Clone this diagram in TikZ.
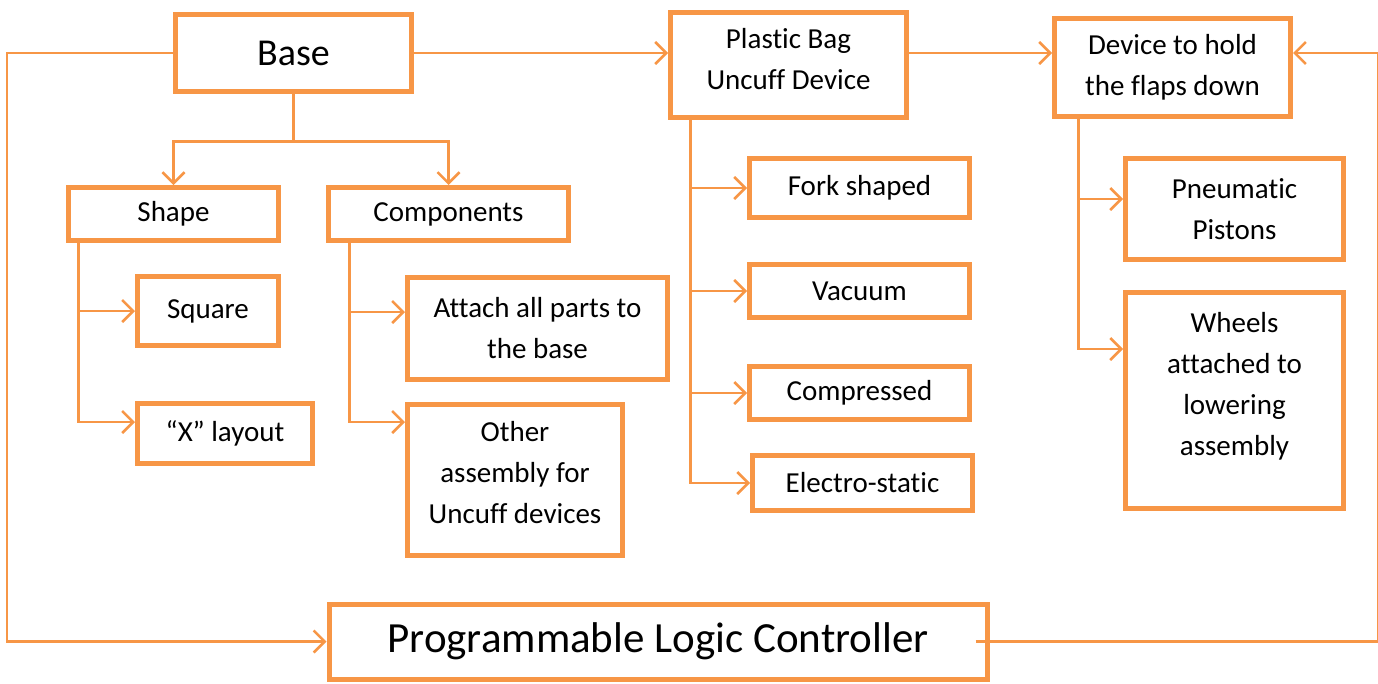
\documentclass[tikz,border=0pt]{standalone}
\usepackage{fontspec}
\setmainfont{Carlito}[Ligatures={TeX,CommonOff}]
\usepackage{tikz}
\usetikzlibrary{arrows.meta, positioning}
\definecolor{cOrange}{RGB}{247,150,70}
\tikzset{
	box/.style    ={rectangle, draw=cOrange, line width=5pt, inner sep=0pt, align=center, text=black, font=\fontsize{29}{41}\selectfont},
	bigbox/.style ={box, font=\fontsize{38}{46}\selectfont},
	link/.style   ={draw=cOrange, line width=2.5pt},
	arr/.style    ={link, -{Straight Barb[length=11pt, width=22pt]}},
}
\begin{document}
\begin{tikzpicture}[x=1pt, y=-1pt]
	\useasboundingbox (0,0) rectangle (1378,683);
	% top row
	\node[bigbox, minimum width=236, minimum height=77] (base) at (293.5,53) {Base};
	\node[box, minimum width=236, minimum height=105, text depth=12pt] (bag) at (788.5,65) {Plastic Bag\\Uncuff Device};
	\node[box, minimum width=236, minimum height=98] (hold) at (1172.5,67.5) {Device to hold\\the flaps down};
	% base branches
	\node[box, minimum width=210, minimum height=53] (shape) at (173.5,214) {Shape};
	\node[box, minimum width=240, minimum height=53] (comp) at (448.5,214) {Components};
	\node[box, minimum width=141, minimum height=69] (square) at (208,311) {Square};
	\node[box, minimum width=175, minimum height=60] (xlay) at (225,433.5) {``X'' layout};
	\node[box, minimum width=260, minimum height=102] (attach) at (537.5,328.5) {Attach all parts to\\the base};
	\node[box, minimum width=215, minimum height=151, text depth=15pt] (other) at (515,480) {Other\\assembly for\\Uncuff devices};
	% uncuff options
	\node[box, minimum width=220, minimum height=59] (fork) at (859.5,188) {Fork shaped};
	\node[box, minimum width=220, minimum height=53] (vacuum) at (859.5,291) {Vacuum};
	\node[box, minimum width=220, minimum height=53] (compr) at (859.5,393) {Compressed};
	\node[box, minimum width=220, minimum height=55] (estat) at (862.5,483) {Electro-static};
	% hold options
	\node[box, minimum width=218, minimum height=101] (pneu) at (1234.5,209) {Pneumatic\\Pistons};
	\node[box, minimum width=218, minimum height=216, text depth=33pt] (wheels) at (1234.5,400.5) {Wheels\\attached to\\lowering\\assembly};
	% controller
	\node[bigbox, minimum width=658, minimum height=75, font=\fontsize{43}{50}\selectfont] (plc) at (658,641.5) {Programmable Logic Controller};

	\draw[link] (base.south) -- ++(0,47.5) coordinate (bj);
	\draw[arr] (bj) -| (shape.north);
	\draw[arr] (bj) -| (comp.north);
	\draw[arr] (base.east) -- (base.east -| bag.west);
	\draw[arr] (bag.east |- base.east) -- (hold.west |- base.east);
	\draw[arr] (base.west) -- ++(-166,0) |- (plc.west);
	\draw[arr] ([xshift=-14]plc.east) -- ++(403,0) |- (hold.east |- base.east);

	\draw[arr] ([xshift=12.5]shape.south west) |- (square.west);
	\draw[arr] ([xshift=12.5]shape.south west) |- ([yshift=11.5]xlay.west);
	\draw[arr] ([xshift=23.5]comp.south west) |- ([yshift=16.5]attach.west);
	\draw[arr] ([xshift=23.5]comp.south west) |- ([yshift=58]other.west);
	\foreach \n in {fork, vacuum, compr, estat}
		\draw[arr] ([xshift=22.5]bag.south west) |- (\n.west);
	\draw[arr] ([xshift=26.5]hold.south west) |- ([yshift=10]pneu.west);
	\draw[arr] ([xshift=26.5]hold.south west) |- ([yshift=51.5]wheels.west);
\end{tikzpicture}
\end{document}
